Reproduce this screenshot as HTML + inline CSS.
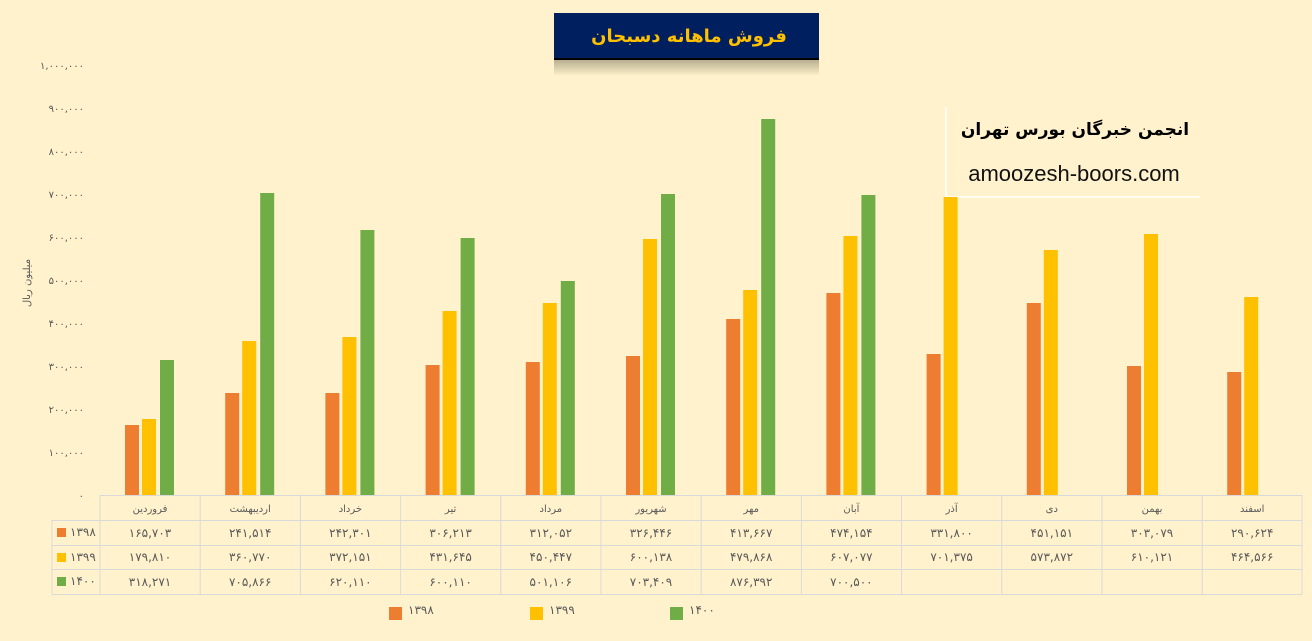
<!DOCTYPE html>
<html><head><meta charset="utf-8"><style>
body{margin:0;background:#FFF2CC;}
svg{display:block;font-family:"Liberation Sans","Noto Sans CJK SC","DejaVu Sans",sans-serif;}
</style></head><body>
<svg width="1312" height="641" viewBox="0 0 1312 641" xmlns="http://www.w3.org/2000/svg">
<rect width="1312" height="641" fill="#FFF2CC"/>
<defs><linearGradient id="sh" x1="0" y1="0" x2="0" y2="1"><stop offset="0" stop-color="#b8ae90"/><stop offset="1" stop-color="#FFF2CC"/></linearGradient></defs>
<rect x="554" y="60" width="265" height="16" fill="url(#sh)"/>
<rect x="554" y="13" width="265" height="46" fill="#001F5F"/>
<rect x="554" y="58" width="265" height="2" fill="#000"/>
<text x="689" y="42" font-size="18" font-weight="bold" fill="#FFC000" text-anchor="middle" font-family="DejaVu Sans,sans-serif">فروش ماهانه دسبحان</text>
<line x1="946" y1="107" x2="946" y2="197" stroke="#fff" stroke-width="1.5"/>
<line x1="946" y1="197" x2="1200" y2="197" stroke="#fff" stroke-width="1.5"/>
<text x="1075" y="135" font-size="17" font-weight="bold" fill="#000" text-anchor="middle" font-family="DejaVu Sans,sans-serif">انجمن خبرگان بورس تهران</text>
<text x="1074" y="181" font-size="22" fill="#111" text-anchor="middle">amoozesh-boors.com</text>
<g font-size="10" fill="#595959" text-anchor="end" font-family="DejaVu Sans,sans-serif">
<text x="84" y="499">۰</text>
<text x="84" y="456">۱۰۰,۰۰۰</text>
<text x="84" y="413">۲۰۰,۰۰۰</text>
<text x="84" y="370">۳۰۰,۰۰۰</text>
<text x="84" y="327">۴۰۰,۰۰۰</text>
<text x="84" y="284">۵۰۰,۰۰۰</text>
<text x="84" y="241">۶۰۰,۰۰۰</text>
<text x="84" y="198">۷۰۰,۰۰۰</text>
<text x="84" y="155">۸۰۰,۰۰۰</text>
<text x="84" y="112">۹۰۰,۰۰۰</text>
<text x="84" y="69">۱,۰۰۰,۰۰۰</text>
</g>
<text transform="translate(30,283) rotate(-90)" font-size="10" fill="#595959" text-anchor="middle" font-family="DejaVu Sans,sans-serif">میلیون ریال</text>
<g fill="#ED7D31">
<rect x="125" y="425" width="14" height="70"/>
<rect x="225.2" y="393" width="14" height="102"/>
<rect x="325.4" y="393" width="14" height="102"/>
<rect x="425.6" y="365" width="14" height="130"/>
<rect x="525.8" y="362" width="14" height="133"/>
<rect x="626" y="356" width="14" height="139"/>
<rect x="726.2" y="319" width="14" height="176"/>
<rect x="826.4" y="293" width="14" height="202"/>
<rect x="926.6" y="354" width="14" height="141"/>
<rect x="1026.8" y="303" width="14" height="192"/>
<rect x="1127" y="366" width="14" height="129"/>
<rect x="1227.2" y="372" width="14" height="123"/>
</g>
<g fill="#FFC000">
<rect x="142" y="419" width="14" height="76"/>
<rect x="242.2" y="341" width="14" height="154"/>
<rect x="342.4" y="337" width="14" height="158"/>
<rect x="442.6" y="311" width="14" height="184"/>
<rect x="542.8" y="303" width="14" height="192"/>
<rect x="643" y="239" width="14" height="256"/>
<rect x="743.2" y="290" width="14" height="205"/>
<rect x="843.4" y="236" width="14" height="259"/>
<rect x="943.6" y="197" width="14" height="298"/>
<rect x="1043.8" y="250" width="14" height="245"/>
<rect x="1144" y="234" width="14" height="261"/>
<rect x="1244.2" y="297" width="14" height="198"/>
</g>
<g fill="#70AD47">
<rect x="160" y="360" width="14" height="135"/>
<rect x="260.2" y="193" width="14" height="302"/>
<rect x="360.4" y="230" width="14" height="265"/>
<rect x="460.6" y="238" width="14" height="257"/>
<rect x="560.8" y="281" width="14" height="214"/>
<rect x="661" y="194" width="14" height="301"/>
<rect x="761.2" y="119" width="14" height="376"/>
<rect x="861.4" y="195" width="14" height="300"/>
</g>
<g stroke="#D9D9D9" stroke-width="1" fill="none">
<line x1="100" y1="495.5" x2="1302" y2="495.5"/>
<line x1="52" y1="520.5" x2="1302" y2="520.5"/>
<line x1="52" y1="545.5" x2="1302" y2="545.5"/>
<line x1="52" y1="569.5" x2="1302" y2="569.5"/>
<line x1="52" y1="594.5" x2="1302" y2="594.5"/>
<line x1="52" y1="520" x2="52" y2="594"/>
<line x1="100" y1="495" x2="100" y2="594"/>
<line x1="200.2" y1="495" x2="200.2" y2="594"/>
<line x1="300.4" y1="495" x2="300.4" y2="594"/>
<line x1="400.6" y1="495" x2="400.6" y2="594"/>
<line x1="500.8" y1="495" x2="500.8" y2="594"/>
<line x1="601" y1="495" x2="601" y2="594"/>
<line x1="701.2" y1="495" x2="701.2" y2="594"/>
<line x1="801.4" y1="495" x2="801.4" y2="594"/>
<line x1="901.6" y1="495" x2="901.6" y2="594"/>
<line x1="1001.8" y1="495" x2="1001.8" y2="594"/>
<line x1="1102" y1="495" x2="1102" y2="594"/>
<line x1="1202.2" y1="495" x2="1202.2" y2="594"/>
<line x1="1302" y1="495" x2="1302" y2="594"/>
</g>
<g font-size="10" fill="#595959" text-anchor="middle" font-family="DejaVu Sans,sans-serif">
<text x="150" y="512">فروردین</text>
<text x="250.2" y="512">اردیبهشت</text>
<text x="350.4" y="512">خرداد</text>
<text x="450.6" y="512">تیر</text>
<text x="550.8" y="512">مرداد</text>
<text x="651" y="512">شهریور</text>
<text x="751.2" y="512">مهر</text>
<text x="851.4" y="512">آبان</text>
<text x="951.6" y="512">آذر</text>
<text x="1051.8" y="512">دی</text>
<text x="1152" y="512">بهمن</text>
<text x="1252.2" y="512">اسفند</text>
</g>
<rect x="57" y="528" width="9" height="9" fill="#ED7D31"/>
<rect x="57" y="553" width="9" height="9" fill="#FFC000"/>
<rect x="57" y="577" width="9" height="9" fill="#70AD47"/>
<g font-size="12" fill="#595959" font-family="DejaVu Sans,sans-serif">
<text x="70" y="536">۱۳۹۸</text>
<text x="70" y="561">۱۳۹۹</text>
<text x="70" y="585">۱۴۰۰</text>
</g>
<g font-size="12" fill="#595959" text-anchor="middle" font-family="DejaVu Sans,sans-serif">
<text x="150" y="537">۱۶۵,۷۰۳</text><text x="250.2" y="537">۲۴۱,۵۱۴</text><text x="350.4" y="537">۲۴۲,۳۰۱</text><text x="450.6" y="537">۳۰۶,۲۱۳</text><text x="550.8" y="537">۳۱۲,۰۵۲</text><text x="651" y="537">۳۲۶,۴۴۶</text><text x="751.2" y="537">۴۱۳,۶۶۷</text><text x="851.4" y="537">۴۷۴,۱۵۴</text><text x="951.6" y="537">۳۳۱,۸۰۰</text><text x="1051.8" y="537">۴۵۱,۱۵۱</text><text x="1152" y="537">۳۰۳,۰۷۹</text><text x="1252.2" y="537">۲۹۰,۶۲۴</text>
<text x="150" y="561">۱۷۹,۸۱۰</text><text x="250.2" y="561">۳۶۰,۷۷۰</text><text x="350.4" y="561">۳۷۲,۱۵۱</text><text x="450.6" y="561">۴۳۱,۶۴۵</text><text x="550.8" y="561">۴۵۰,۴۴۷</text><text x="651" y="561">۶۰۰,۱۳۸</text><text x="751.2" y="561">۴۷۹,۸۶۸</text><text x="851.4" y="561">۶۰۷,۰۷۷</text><text x="951.6" y="561">۷۰۱,۳۷۵</text><text x="1051.8" y="561">۵۷۳,۸۷۲</text><text x="1152" y="561">۶۱۰,۱۲۱</text><text x="1252.2" y="561">۴۶۴,۵۶۶</text>
<text x="150" y="586">۳۱۸,۲۷۱</text><text x="250.2" y="586">۷۰۵,۸۶۶</text><text x="350.4" y="586">۶۲۰,۱۱۰</text><text x="450.6" y="586">۶۰۰,۱۱۰</text><text x="550.8" y="586">۵۰۱,۱۰۶</text><text x="651" y="586">۷۰۳,۴۰۹</text><text x="751.2" y="586">۸۷۶,۳۹۲</text><text x="851.4" y="586">۷۰۰,۵۰۰</text>
</g>
<rect x="389" y="607" width="13" height="13" fill="#ED7D31"/>
<rect x="530" y="607" width="13" height="13" fill="#FFC000"/>
<rect x="670" y="607" width="13" height="13" fill="#70AD47"/>
<g font-size="12" fill="#595959" font-family="DejaVu Sans,sans-serif">
<text x="408" y="614">۱۳۹۸</text>
<text x="549" y="614">۱۳۹۹</text>
<text x="689" y="614">۱۴۰۰</text>
</g>
</svg>
</body></html>
